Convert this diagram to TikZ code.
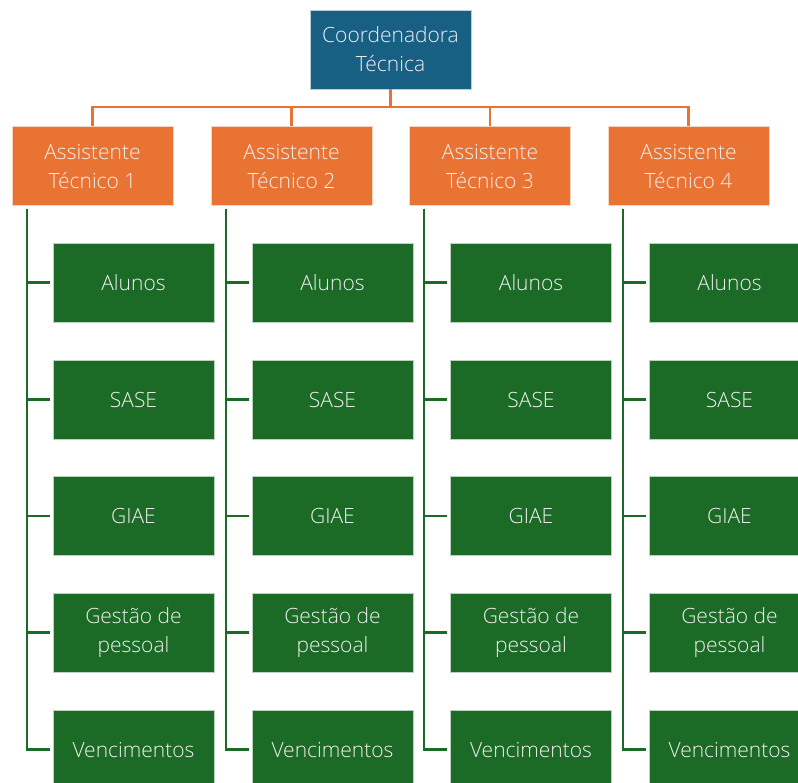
\documentclass[tikz,border=0pt]{standalone}
\usepackage{fontspec}
\setmainfont{Open Sans}[UprightFont=* Light]
\usetikzlibrary{calc}
\definecolor{cblue}{HTML}{175F83}
\definecolor{corange}{HTML}{E97333}
\definecolor{cgreen}{HTML}{1B6A26}
\begin{document}
\begin{tikzpicture}[x=1pt,y=-1pt,
  box/.style={minimum width=161pt,minimum height=79pt,inner sep=0pt,align=center,
    text=white!94!black,font=\fontsize{21}{29}\selectfont,draw=white!70!#1,line width=0.6pt,fill=#1},
  oline/.style={draw=corange,line width=2.2pt},
  gline/.style={draw=cgreen,line width=2.4pt,shorten >=3pt}]
\clip (0,0) rectangle (798,782);
\useasboundingbox (0,0) rectangle (798,782);
\node[box=cblue] (top) at (390.5,49.5) {Coordenadora\\Técnica};
\foreach \i/\x in {1/92.5,2/291.5,3/490,4/688.5}{
  \node[box=corange] (a\i) at (\x,166) {Assistente\\Técnico \i};
  \draw[oline] (top.south) -- ++(0,18) -| (a\i.north);
  \coordinate (v\i) at ($(a\i.south west)+(15,3)$);
  \foreach \j/\y/\t in {1/282.5/Alunos,2/399.5/SASE,3/516/GIAE,4/632.5/{Gestão de\\pessoal},5/749.5/Vencimentos}{
    \node[box=cgreen] (g\i\j) at (\x+41,\y) {\t};
    \draw[gline] (v\i) |- (g\i\j.west);
  }
}
\end{tikzpicture}
\end{document}
